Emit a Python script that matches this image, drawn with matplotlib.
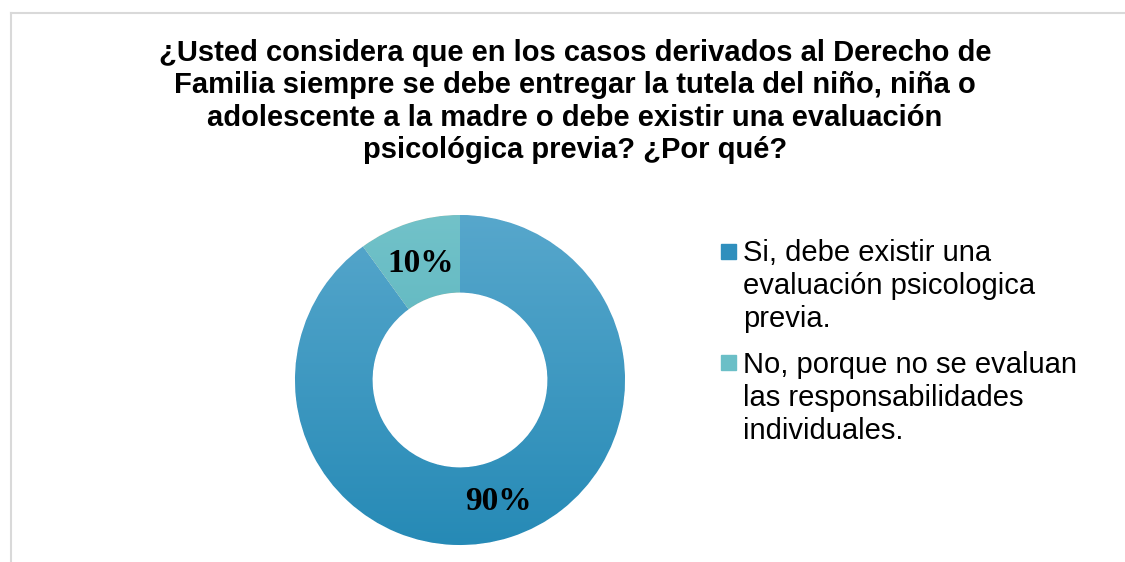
import numpy as np
import matplotlib
matplotlib.use("Agg")
import matplotlib.pyplot as plt
from matplotlib.colors import LinearSegmentedColormap
from matplotlib.patches import Rectangle
from matplotlib.lines import Line2D

title = ("¿Usted considera que en los casos derivados al Derecho de\n"
         "Familia siempre se debe entregar la tutela del niño, niña o\n"
         "adolescente a la madre o debe existir una evaluación\n"
         "psicológica previa? ¿Por qué?")
labels = ["Si, debe existir una\nevaluación psicologica\nprevia.",
          "No, porque no se evaluan\nlas responsabilidades\nindividuales."]
values = [90, 10]
pct_labels = ["90%", "10%"]

# gradient colours (top, bottom) per slice
grad_colors = [("#57a7cc", "#268ab6"), ("#72c2c9", "#48aab6")]
legend_colors = ["#2f8fbd", "#6bbfc7"]

W, H = 1125, 562
fig = plt.figure(figsize=(W / 100, H / 100), dpi=100)

# chart frame (only top and left edges visible)
fig.add_artist(Line2D([11 / W, 1], [1 - 13 / H, 1 - 13 / H], color="#d9d9d9", lw=1.5))
fig.add_artist(Line2D([11 / W, 11 / W], [0, 1 - 13 / H], color="#d9d9d9", lw=1.5))

fig.text(575 / W, 1 - 39 / H, title, ha="center", va="top", fontsize=21,
         fontweight="bold", family="Liberation Sans", linespacing=1.2)

# donut
cx, cy, r = 460, 380, 165
ax = fig.add_axes([(cx - r) / W, (H - cy - r) / H, 2 * r / W, 2 * r / H])
wedges, _ = ax.pie(values, startangle=90, counterclock=False, radius=1,
                   wedgeprops=dict(width=0.47, edgecolor="white", linewidth=0.6))
ax.set_xlim(-1, 1)
ax.set_ylim(-1, 1)
ax.set_aspect("equal")
ax.axis("off")

grad = np.linspace(0, 1, 256).reshape(-1, 1)
for w, (top, bot) in zip(wedges, grad_colors):
    cmap = LinearSegmentedColormap.from_list("g", [top, bot])
    im = ax.imshow(grad, cmap=cmap, extent=[-1, 1, -1, 1], origin="upper",
                   aspect="auto", zorder=w.get_zorder() + 0.1)
    im.set_clip_path(w)

# percentage labels
ax.text((498 - cx) / r, (cy - 502) / r, pct_labels[0], ha="center", va="center",
        fontsize=24, fontweight="bold", family="Liberation Serif", zorder=5)
ax.text((421 - cx) / r, (cy - 263) / r, pct_labels[1], ha="center", va="center",
        fontsize=24, fontweight="bold", family="Liberation Serif", zorder=5)

# legend
entry_tops = [239, 351]
square_tops = [244, 355]
for top, sq, lab, col in zip(entry_tops, square_tops, labels, legend_colors):
    fig.add_artist(Rectangle((721 / W, 1 - (sq + 15) / H), 15 / W, 15 / H,
                             transform=fig.transFigure, color=col))
    fig.text(743 / W, 1 - top / H, lab, ha="left", va="top", fontsize=21,
             family="Liberation Sans", linespacing=1.23)

fig.savefig("out.png", dpi=100)
